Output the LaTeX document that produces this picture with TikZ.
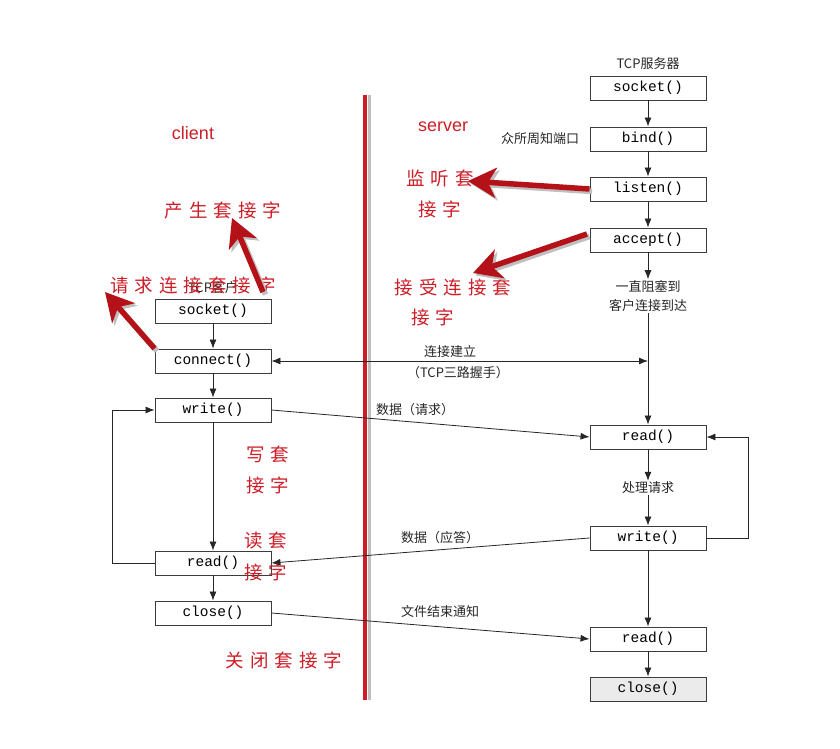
\documentclass[tikz,border=0pt]{standalone}
\usepackage{fontspec}
\setmainfont{Liberation Serif}
\setsansfont{Liberation Sans}
\setmonofont{Liberation Mono}
\newfontfamily\cjk{Noto Sans CJK SC}
\newfontfamily\redcjk[LetterSpace=32]{Noto Sans CJK SC}
\usetikzlibrary{arrows.meta}
\definecolor{redtxt}{RGB}{205,30,40}
\definecolor{redarrow}{RGB}{180,18,24}
\definecolor{boxline}{RGB}{60,60,60}
\tikzset{
  fnbox/.style={draw=boxline,line width=0.9pt,fill=white,minimum width=116pt,minimum height=24pt,inner sep=0pt,
    font=\fontsize{14.5}{15}\selectfont\ttfamily},
  lbl/.style={font=\fontsize{13}{19}\selectfont\cjk,text=black!85,inner sep=1pt},
  redlbl/.style={font=\fontsize{18.5}{20}\selectfont\redcjk,text=redtxt,inner sep=0pt},
  engl/.style={font=\fontsize{18}{20}\selectfont\sffamily,text=redtxt},
  arr/.style={draw=black!85,line width=0.8pt,-{Latex[length=9pt,width=7pt]}},
  darr/.style={draw=black!85,line width=0.8pt,{Latex[length=9pt,width=7pt]}-{Latex[length=9pt,width=7pt]}},
  redarr/.style={draw=redarrow,line width=5.5pt,-{Stealth[length=28pt,width=30pt,inset=8pt]},
    preaction={draw=black!25,line width=5.5pt,-{Stealth[length=28pt,width=30pt,inset=8pt]},transform canvas={shift={(2.5pt,-2.5pt)}}}}
}
\begin{document}
\begin{tikzpicture}[x=1pt,y=-1pt]
\useasboundingbox (0,0) rectangle (840,749);
% divider
\draw[black!25,line width=3pt] (369,95) -- (369,700);
\draw[redtxt,line width=4pt] (365,95) -- (365,700);
% headings
\node[engl] (client) at (193,133) {client};
\node[engl] (server) at (443,127) {server};
% client column
\node[lbl] (tcpc) at (213,288) {TCP客户};
\node[fnbox] (cs) at (213,311) {socket()};
\node[fnbox] (cc) at (213,361) {connect()};
\node[fnbox] (cw) at (213,410) {write()};
\node[fnbox] (cr) at (213,563) {read()};
\node[fnbox] (ccl) at (213,613) {close()};
% server column
\node[lbl] (tcps) at (648,64) {TCP服务器};
\node[fnbox] (ss) at (648,88) {socket()};
\node[fnbox] (sb) at (648,139) {bind()};
\node[fnbox] (sl) at (648,189) {listen()};
\node[fnbox] (sa) at (648,240) {accept()};
\node[lbl,align=center] (wait) at (648,296) {一直阻塞到\\客户连接到达};
\node[fnbox] (sr1) at (648,437) {read()};
\node[lbl] (proc) at (648,488) {处理请求};
\node[fnbox] (sw) at (648,538) {write()};
\node[fnbox] (sr2) at (648,639) {read()};
\node[fnbox,fill=black!8] (scl) at (648,689) {close()};
\node[lbl] (port) at (540,139) {众所周知端口};
% message labels
\node[lbl] (conn1) at (450,352) {连接建立};
\node[lbl] (conn2) at (458,373) {（TCP三路握手）};
\node[lbl] (req) at (415,410) {数据（请求）};
\node[lbl] (resp) at (440,538) {数据（应答）};
\node[lbl] (eof) at (440,612) {文件结束通知};
% client arrows
\draw[arr] (cs) -- (cc);
\draw[arr] (cc) -- (cw);
\draw[arr] (cw) -- (cr);
\draw[arr] (cr) -- (ccl);
\draw[arr] (cr.west) -- ++(-42,0) |- (cw.west);
% server arrows
\draw[arr] (ss) -- (sb);
\draw[arr] (sb) -- (sl);
\draw[arr] (sl) -- (sa);
\draw[arr] (sa) -- (wait);
\draw[arr] (wait) -- (sr1);
\draw[arr] (sr1) -- (proc);
\draw[arr] (proc) -- (sw);
\draw[arr] (sw) -- (sr2);
\draw[arr] (sr2) -- (scl);
\draw[arr] (sw.east) -- ++(42,0) |- (sr1.east);
% messages
\coordinate (join) at (648,361);
\draw[darr] (cc.east) -- (join);
\draw[arr] (cw.east) -- (sr1.west);
\draw[arr] (sw.west) -- (cr.east);
\draw[arr] (ccl.east) -- (sr2.west);
% red annotations
\node[redlbl] (r1) at (223,210) {产生套接字};
\node[redlbl] (r2) at (193,285) {请求连接套接字};
\node[redlbl] (r3) at (440,178) {监听套};
\node[redlbl] (r3b) at (440,209) {接字};
\node[redlbl] (r4) at (453,287) {接受连接套};
\node[redlbl] (r4b) at (433,317) {接字};
\node[redlbl] (r5) at (268,454) {写套};
\node[redlbl] (r5b) at (268,485) {接字};
\node[redlbl] (r6) at (266,541) {读套};
\node[redlbl] (r6b) at (266,572) {接字};
\node[redlbl] (r7) at (284,660) {关闭套接字};
\coordinate (t1) at (232,218);
\coordinate (s1) at (263,292);
\coordinate (t2) at (105,292);
\coordinate (s4) at (587,234);
\coordinate (t4) at (473,273);
\coordinate (t3) at (468,181);
\draw[redarr] (s1) -- (t1);
\draw[redarr] (cc.north west) -- (t2);
\draw[redarr] (sl.west) -- (t3);
\draw[redarr] (s4) -- (t4);
\end{tikzpicture}
\end{document}
